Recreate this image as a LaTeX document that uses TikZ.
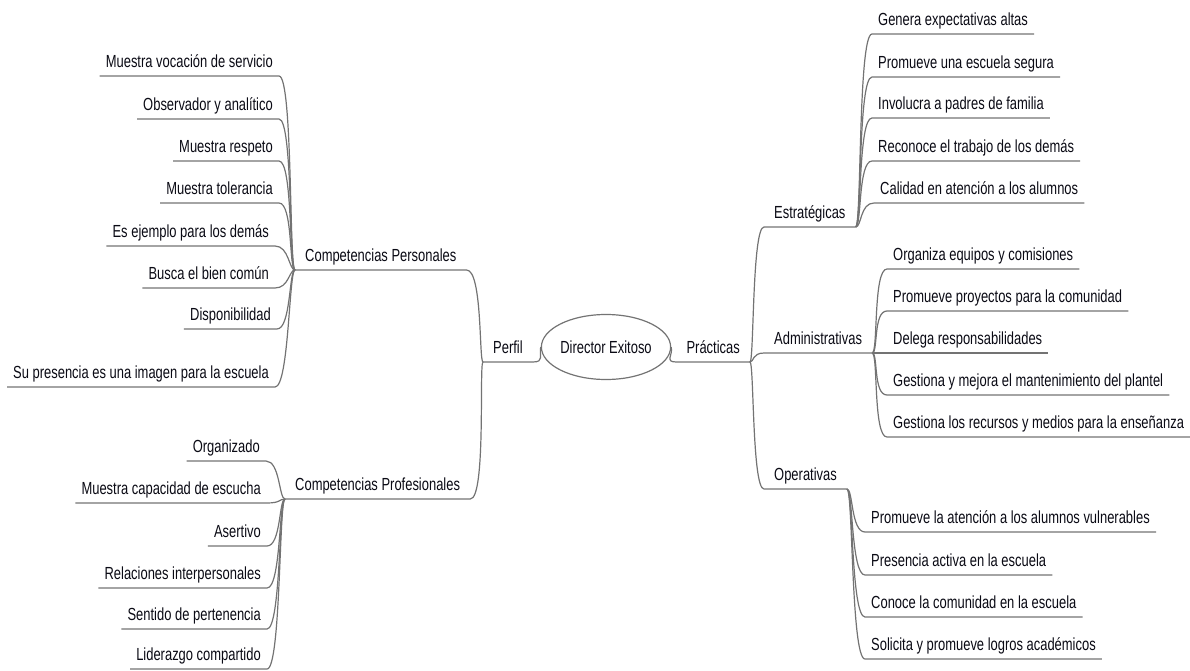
\documentclass[tikz,border=0pt]{standalone}
\usepackage{fontspec}
\setmainfont{Liberation Sans}[FakeStretch=0.74]
\usetikzlibrary{shapes.geometric}
\definecolor{linkgray}{RGB}{115,115,115}
\definecolor{textdark}{RGB}{10,10,20}
\tikzset{
  leaf/.style={inner xsep=6pt, inner ysep=4pt, text height=13pt, text depth=4pt,
    font=\fontsize{17.5}{20}\selectfont, text=textdark},
  branch/.style={leaf, inner xsep=10pt},
  link/.style={draw=linkgray, line width=1.2pt},
}
\begin{document}
\begin{tikzpicture}[x=1pt,y=-1pt]
\useasboundingbox (0,0) rectangle (1190,671);
% centre
\node[ellipse, draw=linkgray, line width=1.2pt, minimum width=108pt, minimum height=65pt,
  inner sep=0pt, font=\fontsize{17.5}{20}\selectfont, text=textdark] (dir) at (606,347) {Director Exitoso};
\node[branch, anchor=south west] (perfil) at (483,362) {Perfil};
\node[branch, anchor=south east] (prac) at (750,362) {Prácticas};
% left branches
\node[branch, anchor=south west] (pers) at (295,270) {Competencias Personales};
\node[branch, anchor=south west] (prof) at (285,499) {Competencias Profesionales};
\node[leaf, anchor=south east] (pers1) at (279,76) {Muestra vocación de servicio};
\node[leaf, anchor=south east] (pers2) at (279,119) {Observador y analítico};
\node[leaf, anchor=south east] (pers3) at (279,161) {Muestra respeto};
\node[leaf, anchor=south east] (pers4) at (279,203) {Muestra tolerancia};
\node[leaf, anchor=south east] (pers5) at (275,246) {Es ejemplo para los demás};
\node[leaf, anchor=south east] (pers6) at (275,288) {Busca el bien común};
\node[leaf, anchor=south east] (pers7) at (277,329) {Disponibilidad};
\node[leaf, anchor=south east] (pers8) at (275,387) {Su presencia es una imagen para la escuela};
\node[leaf, anchor=south east] (prof1) at (266,461) {Organizado};
\node[leaf, anchor=south east] (prof2) at (267,503) {Muestra capacidad de escucha};
\node[leaf, anchor=south east] (prof3) at (267,546) {Asertivo};
\node[leaf, anchor=south east] (prof4) at (267,588) {Relaciones interpersonales};
\node[leaf, anchor=south east] (prof5) at (267,629) {Sentido de pertenencia};
\node[leaf, anchor=south east] (prof6) at (267,669) {Liderazgo compartido};
% right branches
\node[branch, anchor=south west] (estr) at (764,227) {Estratégicas};
\node[branch, anchor=south west] (adm) at (764,353) {Administrativas};
\node[branch, anchor=south west] (oper) at (764,489) {Operativas};
\node[leaf, anchor=south west] (estr1) at (872,34) {Genera expectativas altas};
\node[leaf, anchor=south west] (estr2) at (872,77) {Promueve una escuela segura};
\node[leaf, anchor=south west] (estr3) at (872,118) {Involucra a padres de familia};
\node[leaf, anchor=south west] (estr4) at (872,161) {Reconoce el trabajo de los demás};
\node[leaf, anchor=south west] (estr5) at (874,203) {Calidad en atención a los alumnos};
\node[leaf, anchor=south west] (adm1) at (887,269) {Organiza equipos y comisiones};
\node[leaf, anchor=south west] (adm2) at (887,311) {Promueve proyectos para la comunidad};
\node[leaf, anchor=south west] (adm3) at (887,353) {Delega responsabilidades};
\node[leaf, anchor=south west] (adm4) at (887,395) {Gestiona y mejora el mantenimiento del plantel};
\node[leaf, anchor=south west] (adm5) at (887,437) {Gestiona los recursos y medios para la enseñanza};
\node[leaf, anchor=south west] (oper1) at (865,532) {Promueve la atención a los alumnos vulnerables};
\node[leaf, anchor=south west] (oper2) at (865,575) {Presencia activa en la escuela};
\node[leaf, anchor=south west] (oper3) at (865,617) {Conoce la comunidad en la escuela};
\node[leaf, anchor=south west] (oper4) at (865,659) {Solicita y promueve logros académicos};
% centre links
\draw[link] (dir.west) .. controls +(-2,8) and +(12,0) .. (perfil.south east) -- (perfil.south west);
\draw[link] (dir.east) .. controls +(2,8) and +(-12,0) .. (prac.south west) -- (prac.south east);
\draw[link] (perfil.south west) .. controls +(-4,0) and +(16,0) .. (pers.south east) -- (pers.south west);
\draw[link] (perfil.south west) .. controls +(-4,0) and +(16,0) .. (prof.south east) -- (prof.south west);
\draw[link] (prac.south east) .. controls +(4,0) and +(-12,0) .. (estr.south west) -- (estr.south east);
\draw[link] (prac.south east) .. controls +(4,0) and +(-12,0) .. (adm.south west) -- (adm.south east);
\draw[link] (prac.south east) .. controls +(4,0) and +(-12,0) .. (oper.south west) -- (oper.south east);
% personal
\draw[link] (pers.south west) .. controls +(-6,0) and +(14,0) .. (pers1.south east) -- (pers1.south west);
\draw[link] (pers.south west) .. controls +(-6,0) and +(14,0) .. (pers2.south east) -- (pers2.south west);
\draw[link] (pers.south west) .. controls +(-6,0) and +(14,0) .. (pers3.south east) -- (pers3.south west);
\draw[link] (pers.south west) .. controls +(-6,0) and +(14,0) .. (pers4.south east) -- (pers4.south west);
\draw[link] (pers.south west) .. controls +(-6,0) and +(14,0) .. (pers5.south east) -- (pers5.south west);
\draw[link] (pers.south west) .. controls +(-6,0) and +(14,0) .. (pers6.south east) -- (pers6.south west);
\draw[link] (pers.south west) .. controls +(-6,0) and +(14,0) .. (pers7.south east) -- (pers7.south west);
\draw[link] (pers.south west) .. controls +(-6,0) and +(14,0) .. (pers8.south east) -- (pers8.south west);
% professional
\draw[link] (prof.south west) .. controls +(-6,0) and +(14,0) .. (prof1.south east) -- (prof1.south west);
\draw[link] (prof.south west) .. controls +(-6,0) and +(14,0) .. (prof2.south east) -- (prof2.south west);
\draw[link] (prof.south west) .. controls +(-6,0) and +(14,0) .. (prof3.south east) -- (prof3.south west);
\draw[link] (prof.south west) .. controls +(-6,0) and +(14,0) .. (prof4.south east) -- (prof4.south west);
\draw[link] (prof.south west) .. controls +(-6,0) and +(14,0) .. (prof5.south east) -- (prof5.south west);
\draw[link] (prof.south west) .. controls +(-6,0) and +(14,0) .. (prof6.south east) -- (prof6.south west);
% strategic
\draw[link] (estr.south east) .. controls +(6,0) and +(-14,0) .. (estr1.south west) -- (estr1.south east);
\draw[link] (estr.south east) .. controls +(6,0) and +(-14,0) .. (estr2.south west) -- (estr2.south east);
\draw[link] (estr.south east) .. controls +(6,0) and +(-14,0) .. (estr3.south west) -- (estr3.south east);
\draw[link] (estr.south east) .. controls +(6,0) and +(-14,0) .. (estr4.south west) -- (estr4.south east);
\draw[link] (estr.south east) .. controls +(6,0) and +(-14,0) .. (estr5.south west) -- (estr5.south east);
% administrative
\draw[link] (adm.south east) .. controls +(6,0) and +(-14,0) .. (adm1.south west) -- (adm1.south east);
\draw[link] (adm.south east) .. controls +(6,0) and +(-14,0) .. (adm2.south west) -- (adm2.south east);
\draw[link] (adm.south east) -- (adm3.south west) -- (adm3.south east);
\draw[link] (adm.south east) .. controls +(6,0) and +(-14,0) .. (adm4.south west) -- (adm4.south east);
\draw[link] (adm.south east) .. controls +(6,0) and +(-14,0) .. (adm5.south west) -- (adm5.south east);
% operative
\draw[link] (oper.south east) .. controls +(6,0) and +(-14,0) .. (oper1.south west) -- (oper1.south east);
\draw[link] (oper.south east) .. controls +(6,0) and +(-14,0) .. (oper2.south west) -- (oper2.south east);
\draw[link] (oper.south east) .. controls +(6,0) and +(-14,0) .. (oper3.south west) -- (oper3.south east);
\draw[link] (oper.south east) .. controls +(6,0) and +(-14,0) .. (oper4.south west) -- (oper4.south east);
\end{tikzpicture}
\end{document}
